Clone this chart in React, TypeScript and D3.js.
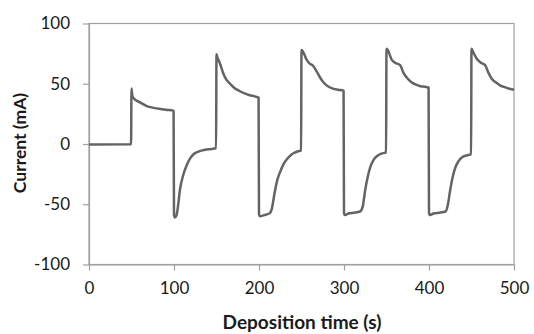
import { useEffect, useRef } from 'react';
import * as d3 from 'd3';

// time (s) and current (mA)
const times = [
  0, 49.5, 50, 51, 52.5, 60, 68, 76, 84, 92, 99.5,
  100, 101, 103, 105, 107, 110, 115, 119, 123, 128, 134, 141, 149.5,
  150, 151, 154, 158, 162, 166, 171, 177, 183, 189, 195, 199.5,
  200, 201, 206, 212.5, 215, 218.5, 221.5, 225, 229, 233, 237, 241, 246, 249.5,
  250, 251.5, 256, 260, 263, 268, 272, 276, 281, 287, 293, 299.5,
  300, 301, 306, 312, 319, 322, 325, 328, 331, 335, 339, 344, 349.5,
  350, 351.5, 356, 360, 366, 370, 374, 379, 384, 390, 395, 399.5,
  400, 401, 406, 412, 419.5, 422, 425, 428, 431, 435, 439, 444, 449.5,
  450, 451.5, 456, 461, 466, 470, 474, 479, 484, 490, 495, 500,
];
const current = [
  -0.5, -0.3, 46, 40, 38, 34.5, 31.5, 30, 29, 28.3, 27.5,
  -59, -61, -59, -50, -38, -28, -17.5, -12, -8.5, -6.5, -5.2, -4.3, -3.6,
  74.5, 72, 67, 58.5, 53, 50, 46.5, 44, 42, 40.5, 39.5, 38.5,
  -58, -60, -59, -57.5, -54, -40, -30, -23, -16.5, -12.5, -9.5, -7.5, -6, -5.3,
  78, 77, 70, 66.5, 65.5, 60, 55, 51, 48, 46, 45, 44.2,
  -57.5, -59, -57.5, -57, -56, -52, -38, -27, -19, -13, -10, -8, -7,
  79, 78, 70, 67.5, 65.5, 59, 55, 51.5, 49.5, 48, 47.5, 47,
  -57, -59, -57.5, -57, -56, -51, -38, -27, -19.5, -14, -11, -9.5, -8.5,
  79, 77, 71, 67.5, 65.5, 59, 54, 51, 48.5, 47, 45.8, 45,
];
const xTicks = [0, 100, 200, 300, 400, 500];
const yTicks = [-100, -50, 0, 50, 100];

export default function App() {
  const svgRef = useRef<SVGSVGElement>(null);

  useEffect(() => {
    if (!svgRef.current) return;
    const svg = d3.select(svgRef.current);
    svg.selectAll('*').remove();

    const left = 89, right = 514, top = 23.5, bottom = 264.5;
    const font = 'Lato, "Open Sans", sans-serif';

    const x = d3.scaleLinear().domain([0, 500]).range([left, right]);
    const y = d3.scaleLinear().domain([-100, 100]).range([bottom, top]);

    // plot area border
    svg.append('rect')
      .attr('x', left)
      .attr('y', top)
      .attr('width', right - left)
      .attr('height', bottom - top)
      .attr('fill', 'none')
      .attr('stroke', '#a0a0a0')
      .attr('stroke-width', 1.2);

    // axes (plain hyphen for negatives, like the original)
    const xAxis = svg.append('g')
      .attr('transform', `translate(0,${bottom})`)
      .call(d3.axisBottom(x).tickValues(xTicks).tickFormat(d => String(d))
        .tickSize(6).tickSizeOuter(0).tickPadding(11));
    const yAxis = svg.append('g')
      .attr('transform', `translate(${left},0)`)
      .call(d3.axisLeft(y).tickValues(yTicks).tickFormat(d => String(d))
        .tickSize(6).tickSizeOuter(0).tickPadding(13));

    [xAxis, yAxis].forEach(g => {
      g.select('.domain').attr('stroke', '#a0a0a0').attr('stroke-width', 1.2);
      g.selectAll('line').attr('stroke', '#a0a0a0').attr('stroke-width', 1.2);
      g.selectAll('text')
        .attr('fill', '#1a1a1a')
        .attr('font-size', '17px')
        .attr('font-family', font);
    });

    // the trace
    const pts = times.map((t, i) => [t, current[i]] as [number, number]);
    const line = d3.line<[number, number]>()
      .x(d => x(d[0]))
      .y(d => y(d[1]))
      .curve(d3.curveMonotoneX);

    svg.append('path')
      .datum(pts)
      .attr('fill', 'none')
      .attr('stroke', '#646464')
      .attr('stroke-width', 2.5)
      .attr('stroke-linejoin', 'round')
      .attr('d', line);

    // axis titles
    svg.append('text')
      .attr('x', 302)
      .attr('y', 329)
      .attr('text-anchor', 'middle')
      .attr('font-family', font)
      .attr('font-weight', 'bold')
      .attr('font-size', '19px')
      .attr('fill', '#1a1a1a')
      .text('Deposition time (s)');

    svg.append('text')
      .attr('transform', `translate(26,143) rotate(-90)`)
      .attr('text-anchor', 'middle')
      .attr('font-family', font)
      .attr('font-weight', 'bold')
      .attr('font-size', '17.5px')
      .attr('fill', '#1a1a1a')
      .text('Current (mA)');
  }, []);

  return (
    <svg
      ref={svgRef}
      width={534}
      height={334}
      style={{ position: 'absolute', left: 0, top: 0, background: '#fff' }}
    />
  );
}
